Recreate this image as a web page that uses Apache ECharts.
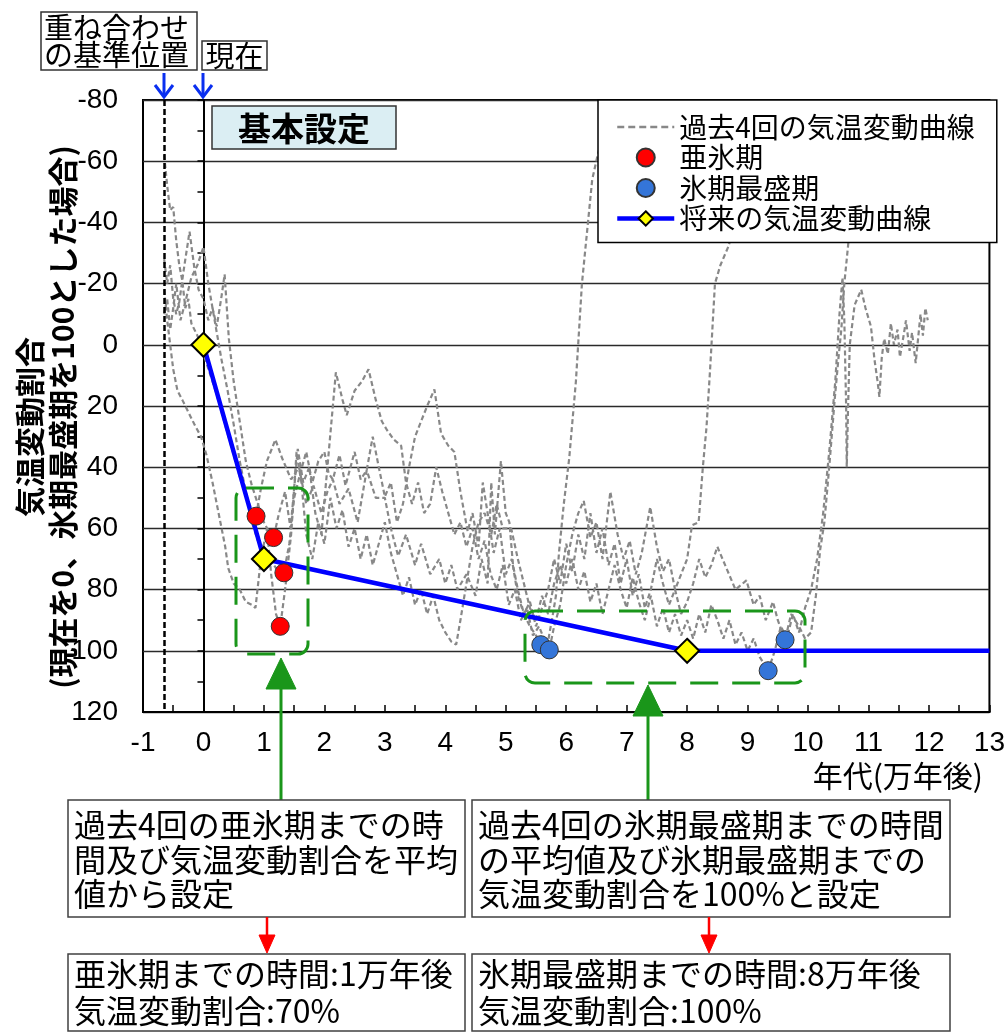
<!DOCTYPE html>
<html>
<head>
<meta charset="utf-8">
<script src="https://cdn.jsdelivr.net/npm/echarts@6/dist/echarts.min.js"></script>
<style>
html,body{margin:0;padding:0;background:#fff;}
#chart{width:1008px;height:1034px;}
</style>
</head>
<body>
<div id="chart"></div>
<script>
const LATIN = '"Liberation Sans", Arial, sans-serif';
const CJK = '"Noto Sans CJK JP", "Noto Sans CJK SC", sans-serif';

// 過去4回の気温変動曲線 [年代(万年後), 気温変動割合]
const pastCycle1 = [[-0.65,-62],[-0.6,-52],[-0.55,-44],[-0.5,-45],[-0.45,-34],[-0.4,-26],[-0.35,-21],[-0.3,-12],[-0.25,-15],[-0.2,-7],[-0.1,-3],[0,3],[0.1,9],[0.2,15],[0.3,22],[0.4,29],[0.5,36],[0.6,43],[0.7,49],[0.8,54],[0.87,56],[0.95,47],[1.05,38],[1.19,31],[1.3,37],[1.45,44],[1.58,40],[1.7,52],[1.82,46],[1.95,55],[2.05,48],[2.14,44],[2.25,52],[2.4,47],[2.55,58],[2.7,41],[2.85,50],[3.0,50],[3.1,60],[3.22,69],[3.35,62],[3.5,72],[3.6,65],[3.75,75],[3.9,70],[4.0,78],[4.1,72],[4.2,80],[4.35,75],[4.5,82],[4.6,70],[4.7,78],[4.76,45],[4.82,62],[4.92,38],[5.0,55],[5.06,58],[5.12,72],[5.2,80],[5.3,88],[5.4,92],[5.5,95],[5.58,98],[5.69,98],[5.78,88],[5.83,82],[5.88,68],[5.96,52],[6.05,37],[6.16,12],[6.26,-20],[6.35,-38],[6.43,-54],[6.52,-62],[6.6,-68]];
const pastCycle2 = [[-0.65,-28],[-0.6,-20],[-0.55,-26],[-0.5,-15],[-0.45,-10],[-0.4,-14],[-0.33,-24],[-0.23,-37],[-0.15,-25],[-0.08,-18],[0,-15],[0.08,-8],[0.15,-12],[0.22,-6],[0.3,-16],[0.35,-23],[0.42,-2],[0.5,12],[0.6,25],[0.7,38],[0.8,46],[0.9,52],[1.0,58],[1.08,61],[1.16,63],[1.25,55],[1.35,48],[1.44,60],[1.56,34],[1.65,45],[1.75,40],[1.85,55],[1.95,62],[2.05,40],[2.19,9],[2.3,18],[2.37,23],[2.5,15],[2.62,12],[2.73,8],[2.85,18],[2.95,25],[3.04,28],[3.15,31],[3.27,33],[3.35,45],[3.45,52],[3.55,45],[3.65,55],[3.75,52],[3.85,40],[3.95,48],[4.05,55],[4.15,62],[4.25,58],[4.35,66],[4.45,60],[4.55,70],[4.65,64],[4.75,75],[4.85,80],[4.95,72],[5.05,85],[5.15,80],[5.25,90],[5.35,86],[5.45,95],[5.55,92],[5.65,97],[5.72,99.7],[5.8,92],[5.9,85],[6.0,72],[6.1,62],[6.2,55],[6.29,51],[6.4,63],[6.5,58],[6.6,70],[6.73,48],[6.85,62],[6.95,70],[7.05,64],[7.15,75],[7.25,68],[7.39,53],[7.5,66],[7.6,74],[7.7,70],[7.8,80],[7.9,75],[8.0,70],[8.08,59],[8.19,58],[8.26,40],[8.32,27],[8.38,8],[8.46,-20],[8.55,-26],[8.68,-32],[8.8,-40]];
const pastCycle3 = [[-0.65,-10],[-0.6,-15],[-0.55,-5],[-0.5,-12],[-0.45,-20],[-0.38,-8],[-0.3,-14],[-0.2,-22],[-0.1,-26],[0,-32],[0.08,-20],[0.15,-12],[0.22,-4],[0.3,5],[0.4,15],[0.5,26],[0.6,38],[0.7,48],[0.8,58],[0.9,64],[1.0,66],[1.1,70],[1.2,73],[1.33,74.5],[1.42,65],[1.5,50],[1.6,42],[1.7,35],[1.8,45],[1.9,38],[2.0,35],[2.07,42],[2.14,44],[2.25,36],[2.35,46],[2.5,35],[2.6,44],[2.7,41],[2.8,30],[2.9,40],[3.0,49.6],[3.1,45],[3.2,58],[3.3,52],[3.4,40],[3.5,30],[3.6,25],[3.7,20],[3.82,14.6],[3.93,29],[4.05,33],[4.15,35],[4.25,48],[4.37,61],[4.45,55],[4.55,66],[4.62,45],[4.7,55],[4.8,68],[4.9,60],[5.0,75],[5.1,70],[5.2,82],[5.3,88],[5.4,84],[5.5,92],[5.6,86],[5.7,80],[5.8,70],[5.9,78],[6.0,65],[6.1,74],[6.2,62],[6.3,70],[6.4,55],[6.5,68],[6.6,60],[6.7,72],[6.8,65],[6.9,78],[7.0,70],[7.1,82],[7.2,75],[7.3,86],[7.4,80],[7.5,70],[7.6,78],[7.7,85],[7.8,80],[7.9,88],[8.0,84],[8.1,78],[8.2,70],[8.3,76],[8.4,72],[8.5,66],[8.65,73],[8.8,80],[8.98,77],[9.1,85],[9.2,82],[9.3,90],[9.42,84],[9.5,90],[9.62,96.4],[9.72,88],[9.85,92],[9.95,96],[10.05,94],[10.13,82],[10.2,67],[10.27,58],[10.35,40],[10.44,18],[10.5,5],[10.55,-5],[10.6,-20],[10.66,-32],[10.72,-45],[10.8,-60]];
const pastCycle4 = [[-0.65,-18],[-0.6,-8],[-0.55,0],[-0.5,8],[-0.43,15],[-0.35,18],[-0.25,22],[-0.15,26],[-0.04,30],[0.05,36],[0.15,45],[0.25,55],[0.36,66],[0.41,73],[0.5,78],[0.6,80],[0.7,84],[0.8,85],[0.86,86],[0.95,70],[1.05,60],[1.12,75],[1.2,88],[1.27,92],[1.35,80],[1.45,62],[1.54,35],[1.62,45],[1.7,62],[1.8,70],[1.9,58],[2.0,65],[2.1,50],[2.2,60],[2.3,54],[2.4,66],[2.5,60],[2.6,70],[2.7,62],[2.8,72],[2.9,65],[3.0,58],[3.1,68],[3.2,75],[3.3,82],[3.4,76],[3.5,85],[3.6,80],[3.7,88],[3.8,82],[3.9,90],[4.0,94],[4.1,97],[4.18,98],[4.25,90],[4.35,78],[4.45,66],[4.55,58],[4.65,55],[4.76,62],[4.85,52],[4.95,60],[5.09,60],[5.2,70],[5.3,78],[5.4,86],[5.5,90],[5.6,82],[5.7,88],[5.8,78],[5.9,72],[6.0,78],[6.1,70],[6.2,80],[6.3,74],[6.4,84],[6.5,78],[6.6,88],[6.7,80],[6.8,72],[6.9,80],[7.0,86],[7.1,76],[7.2,84],[7.3,90],[7.4,82],[7.5,92],[7.6,86],[7.7,94],[7.8,88],[7.9,95],[8.0,90],[8.1,96],[8.2,88],[8.3,94],[8.4,85],[8.5,90],[8.6,96],[8.7,90],[8.8,98],[8.9,94],[9.0,100],[9.1,96],[9.2,102],[9.34,106.5],[9.45,100],[9.55,92],[9.65,96],[9.75,88],[9.85,94],[9.95,86],[10.05,80],[10.15,70],[10.25,55],[10.35,35],[10.45,12],[10.52,-10],[10.57,-22],[10.6,-8],[10.63,20],[10.64,40],[10.66,22],[10.69,0],[10.77,-13],[10.88,-18],[10.95,-12],[11.04,-6],[11.1,5],[11.15,12],[11.18,17],[11.22,4],[11.26,-2],[11.32,3],[11.37,-7],[11.42,0],[11.48,-5],[11.52,4],[11.58,-3],[11.62,-8],[11.68,2],[11.72,-4],[11.78,6],[11.82,-2],[11.86,-10],[11.9,-3],[11.94,-12],[11.98,-8]];

// 亜氷期・氷期最盛期の位置
const subglacialPoints = [[0.87,56],[1.16,63],[1.33,74.5],[1.27,92]];
const glacialMaxPoints = [[5.58,98],[5.72,99.7],[9.34,106.5],[9.62,96.4]];

// 将来の気温変動曲線（現在 → 亜氷期 → 氷期最盛期 → 以降一定）
const futureCurve = [[0,0],[1,70],[8,100],[13,100]];

// 重ね合わせの基準位置
const overlayRefX = -0.65;

const NAME_PAST = '過去4回の気温変動曲線';
const NAME_SUB = '亜氷期';
const NAME_MAX = '氷期最盛期';
const NAME_FUTURE = '将来の気温変動曲線';

const GREEN = '#1a961a';
const BOXLINE = '#404040';
const GRAY = '#888888';
const BLUE = '#0000ff';

function pastSeries(data) {
  return {
    name: NAME_PAST, type: 'line', data: data, z: 2,
    symbol: 'none', showSymbol: false, silent: true,
    lineStyle: { color: GRAY, width: 2.2, type: [5, 3] },
    itemStyle: { color: GRAY }
  };
}

function txt(x, y, text, opt) {
  opt = opt || {};
  const size = opt.size || 30;
  return {
    type: 'text', x: x, y: y, z: 101, rotation: opt.rotation || 0,
    style: {
      text: text, fontSize: size, fontFamily: opt.family || CJK,
      fontWeight: opt.weight || 'normal', fill: '#000',
      lineHeight: opt.lineHeight || size,
      align: opt.align || 'left', textAlign: opt.align || 'left',
      verticalAlign: opt.valign || 'middle', textVerticalAlign: opt.valign || 'middle'
    }
  };
}
function rect(x, y, w, h, opt) {
  opt = opt || {};
  return {
    type: 'rect', z: 100, shape: { x: x, y: y, width: w, height: h, r: opt.r || 0 },
    style: {
      fill: opt.fill === undefined ? '#fff' : opt.fill,
      stroke: opt.stroke || BOXLINE, lineWidth: opt.lineWidth || 1.5,
      lineDash: opt.dash || null
    }
  };
}
function line(points, color, width) {
  return { type: 'polyline', z: 100, shape: { points: points }, style: { fill: null, stroke: color, lineWidth: width } };
}
function tri(points, color) {
  return { type: 'polygon', z: 100, shape: { points: points }, style: { fill: color, stroke: color, lineWidth: 1 } };
}

const graphics = [
  // 見出しボックス
  rect(212, 106, 184, 43, { fill: '#dbeef3', stroke: '#333' }),
  txt(304, 128, '基本設定', { size: 33, align: 'center', weight: 'bold' }),
  // 上部ラベル
  rect(41, 12, 156, 58, { stroke: '#333' }),
  txt(44, 14, '重ね合わせ\nの基準位置', { size: 29, lineHeight: 27, valign: 'top' }),
  rect(202, 41, 65, 29, { stroke: '#333' }),
  txt(234.5, 56, '現在', { size: 29, align: 'center' }),
  // 青矢印
  line([[164, 73], [164, 97]], '#0a2ff0', 3),
  line([[155, 85], [164, 97], [173, 85]], '#0a2ff0', 3),
  line([[203, 73], [203, 97]], '#0a2ff0', 3),
  line([[194, 85], [203, 97], [212, 85]], '#0a2ff0', 3),
  // 緑の破線枠
  rect(236, 488, 72, 166, { fill: 'none', stroke: GREEN, lineWidth: 3, dash: [28, 14], r: 10 }),
  rect(525, 611, 280, 72, { fill: 'none', stroke: GREEN, lineWidth: 3, dash: [28, 14], r: 10 }),
  // 緑矢印
  line([[281, 800], [281, 686]], GREEN, 3),
  tri([[281, 658], [266, 689], [296, 689]], GREEN),
  line([[648, 800], [648, 713]], GREEN, 3),
  tri([[648, 685], [633, 716], [663, 716]], GREEN),
  // 説明ボックス
  rect(68, 800, 397, 117),
  txt(74, 808, '過去4回の亜氷期までの時\n間及び気温変動割合を平均\n値から設定', { size: 32, lineHeight: 34.5, valign: 'top' }),
  rect(472, 800, 478, 117),
  txt(478, 808, '過去4回の氷期最盛期までの時間\nの平均値及び氷期最盛期までの\n気温変動割合を100%と設定', { size: 32, lineHeight: 34.5, valign: 'top' }),
  // 赤矢印
  line([[267, 917], [267, 936]], '#ff0000', 2.5),
  tri([[267, 953], [259, 935], [275, 935]], '#ff0000'),
  line([[709, 917], [709, 936]], '#ff0000', 2.5),
  tri([[709, 953], [701, 935], [717, 935]], '#ff0000'),
  // 設定値ボックス
  rect(68, 954, 397, 77),
  txt(74, 956, '亜氷期までの時間:1万年後\n気温変動割合:70%', { size: 32, lineHeight: 36.5, valign: 'top' }),
  rect(472, 954, 478, 77),
  txt(478, 956, '氷期最盛期までの時間:8万年後\n気温変動割合:100%', { size: 32, lineHeight: 36.5, valign: 'top' }),
  // 軸タイトル
  txt(983, 776, '年代(万年後)', { size: 30, align: 'right' }),
  txt(30, 427, '気温変動割合', { size: 30, align: 'center', weight: 'bold', rotation: Math.PI / 2 }),
  txt(63, 417, '(現在を0、氷期最盛期を100とした場合)', { size: 30, align: 'center', weight: 'bold', rotation: Math.PI / 2 })
];

const chart = echarts.init(document.getElementById('chart'), null, { renderer: 'canvas' });
chart.setOption({
  animation: false,
  backgroundColor: '#fff',
  grid: { left: 143, top: 100, width: 850, height: 612, show: true, borderColor: '#000', borderWidth: 2, backgroundColor: 'transparent' },
  xAxis: {
    type: 'value', min: -1, max: 13, interval: 1,
    axisLine: { onZero: false, lineStyle: { color: '#000', width: 2 } },
    axisTick: { show: true, inside: true, length: 7, lineStyle: { color: '#000', width: 1.5 } },
    minorTick: { show: true, splitNumber: 2, length: 7, lineStyle: { color: '#000', width: 1.5 } },
    axisLabel: { fontSize: 28, fontFamily: LATIN, color: '#000', margin: 17 },
    splitLine: { show: false }
  },
  yAxis: [
    {
      type: 'value', inverse: true, min: -80, max: 120, interval: 20, position: 'left',
      axisLine: { show: false, onZero: false },
      axisTick: { show: false },
      axisLabel: { fontSize: 28, fontFamily: LATIN, color: '#000', margin: 25 },
      splitLine: { show: true, lineStyle: { color: '#2a2a2a', width: 1.3 } }
    },
    {
      type: 'value', inverse: true, min: -80, max: 120, interval: 20, position: 'left',
      axisLine: { show: true, onZero: true, lineStyle: { color: '#000', width: 2 } },
      axisTick: { show: true, inside: false, length: 6, lineStyle: { color: '#000', width: 1.5 } },
      minorTick: { show: true, splitNumber: 2, length: 6, lineStyle: { color: '#000', width: 1.5 } },
      axisLabel: { show: false },
      splitLine: { show: false }
    }
  ],
  legend: {
    left: 598, top: 100, orient: 'vertical',
    backgroundColor: '#fff', borderColor: '#000', borderWidth: 1.5, borderRadius: 0,
    padding: [12, 22, 9, 17], itemWidth: 57, itemHeight: 18, itemGap: 0.5,
    textStyle: { fontSize: 28, fontFamily: CJK, color: '#000', lineHeight: 30 },
    selectedMode: false,
    data: [
      { name: NAME_PAST, itemStyle: { opacity: 0 }, lineStyle: { color: GRAY, width: 2.5, type: [7, 4] } },
      { name: NAME_SUB, icon: 'circle' },
      { name: NAME_MAX, icon: 'circle' },
      { name: NAME_FUTURE, lineStyle: { color: BLUE, width: 4.5 } }
    ]
  },
  series: [
    pastSeries(pastCycle1),
    pastSeries(pastCycle2),
    pastSeries(pastCycle3),
    pastSeries(pastCycle4),
    {
      name: NAME_FUTURE, type: 'line', z: 3,
      data: futureCurve.map(function (p, i) { return i === futureCurve.length - 1 ? { value: p, symbol: 'none' } : p; }),
      symbol: 'diamond', symbolSize: 24, showSymbol: true,
      lineStyle: { color: BLUE, width: 4.5 },
      itemStyle: { color: '#ffff00', borderColor: '#000', borderWidth: 2 },
      markLine: {
        silent: true, symbol: ['none', 'none'], label: { show: false }, animation: false,
        lineStyle: { color: '#000', width: 2.5, type: [6, 3] },
        data: [{ xAxis: overlayRefX }]
      }
    },
    {
      name: NAME_SUB, type: 'scatter', z: 4, data: subglacialPoints, symbol: 'circle', symbolSize: 18,
      itemStyle: { color: '#ff0000', borderColor: '#333', borderWidth: 1, opacity: 1 }
    },
    {
      name: NAME_MAX, type: 'scatter', z: 4, data: glacialMaxPoints, symbol: 'circle', symbolSize: 18,
      itemStyle: { color: '#3475d8', borderColor: '#333', borderWidth: 1, opacity: 1 }
    }
  ],
  graphic: { elements: graphics }
});
</script>
</body>
</html>
